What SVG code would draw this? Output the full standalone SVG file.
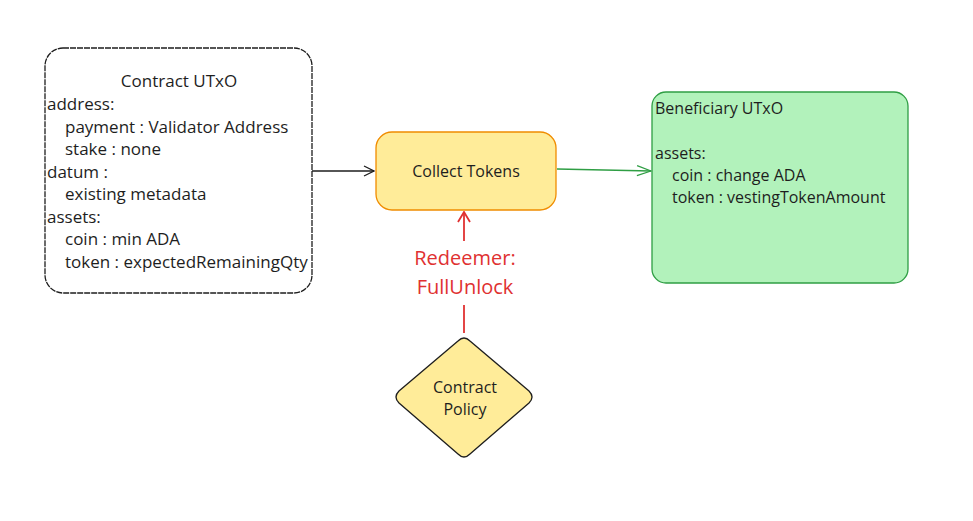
<svg xmlns="http://www.w3.org/2000/svg" width="973" height="521" viewBox="0 0 973 521">
<defs>
<style>
text{font-family:"Open Sans",Lato,sans-serif;fill:#1e1e1e;font-size:16px}
.c{text-anchor:middle}
.big{font-size:17px}
.red{fill:#e03131;font-size:20px;text-anchor:middle}
</style>
<marker id="ab" viewBox="0 0 12 12" refX="11" refY="6" markerWidth="12" markerHeight="12" markerUnits="userSpaceOnUse" orient="auto"><path d="M1 1 L11 6 L1 11" fill="none" stroke="#1e1e1e" stroke-width="1.3"/></marker>
<marker id="ag" viewBox="0 0 16 12" refX="15" refY="6" markerWidth="16" markerHeight="12" markerUnits="userSpaceOnUse" orient="auto"><path d="M1 1 L15 6 L1 11" fill="none" stroke="#2f9e44" stroke-width="1.3"/></marker>
<marker id="ar" viewBox="0 0 12 14" refX="11" refY="7" markerWidth="12" markerHeight="14" markerUnits="userSpaceOnUse" orient="auto"><path d="M1 1 L11 7 L1 13" fill="none" stroke="#e03131" stroke-width="1.8"/></marker>
</defs>
<rect width="973" height="521" fill="#ffffff"/>
<g id="connectors">
<path d="M312 171 L374 171" stroke="#1e1e1e" stroke-width="1.3" fill="none" marker-end="url(#ab)"/>
<path d="M557 169 L651 171" stroke="#2f9e44" stroke-width="1.3" fill="none" marker-end="url(#ag)"/>
<path d="M464 333 L464 305" stroke="#e03131" stroke-width="1.8" fill="none"/>
<path d="M464 241 L464 212" stroke="#e03131" stroke-width="1.8" fill="none" marker-end="url(#ar)"/>
<text class="red" x="465" y="265">Redeemer:</text>
<text class="red" x="465" y="294">FullUnlock</text>
</g>
<g id="contract-utxo">
<rect x="45" y="48" width="267" height="245" rx="18" fill="#ffffff" stroke="#1e1e1e" stroke-width="1.3" stroke-dasharray="6 1"/>
<text class="c big" x="179" y="87">Contract UTxO</text>
<text class="big" x="47" y="110">address:</text>
<text class="big" x="65" y="133">payment : Validator Address</text>
<text class="big" x="65" y="155">stake : none</text>
<text class="big" x="47" y="178">datum :</text>
<text class="big" x="65" y="200">existing metadata</text>
<text class="big" x="47" y="223">assets:</text>
<text class="big" x="65" y="245">coin : min ADA</text>
<text class="big" x="65" y="268">token : expectedRemainingQty</text>
</g>
<g id="collect-tokens">
<rect x="376" y="132" width="180" height="78" rx="16" fill="#ffec99" stroke="#f08c00" stroke-width="1.3"/>
<text class="c" x="466" y="177">Collect Tokens</text>
</g>
<g id="beneficiary-utxo">
<rect x="652" y="92" width="256" height="191" rx="14" fill="#b2f2bb" stroke="#2f9e44" stroke-width="1.3"/>
<text x="655" y="114">Beneficiary UTxO</text>
<text x="655" y="159">assets:</text>
<text x="672" y="181">coin : change ADA</text>
<text x="672" y="203">token : vestingTokenAmount</text>
</g>
<g id="contract-policy">
<path d="M458 341 Q464 335 470 341 L529 391 Q535 397 529 403 L470 454 Q464 460 458 454 L399 403 Q393 397 399 391 Z" fill="#ffec99" stroke="#1e1e1e" stroke-width="1.3"/>
<text class="c" x="465" y="393">Contract</text>
<text class="c" x="465" y="415">Policy</text>
</g>
</svg>
